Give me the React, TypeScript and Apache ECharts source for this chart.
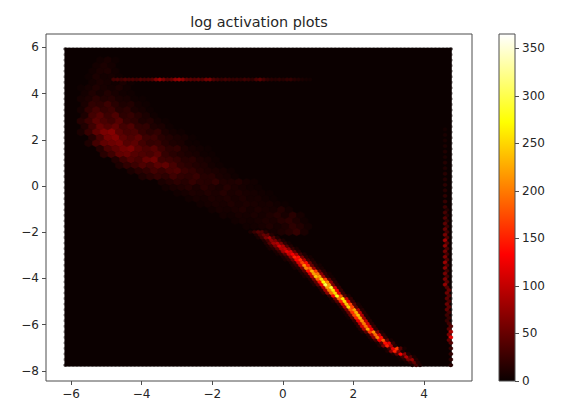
import React, { useEffect, useRef } from "react";
import * as echarts from "echarts";

const xTicks = [-6, -4, -2, 0, 2, 4];
const yTicks = [-8, -6, -4, -2, 0, 2, 4, 6];
const colorbarMax = 365;
const hotStops: [number, number[]][] = [
  [0, [11, 0, 0]],
  [0.365, [255, 0, 0]],
  [0.746, [255, 255, 0]],
  [1, [255, 255, 255]],
];

// hexagon lattice
const xStart = -6.16;
const xStep = 0.1092;
const yStart = -7.75;
const yStep = 0.12;
const lastCol = 100;
const lastRow = 114;

// [row, first column, counts...] in coarse cells (two lattice steps wide)
const cloudRows: number[][] = [
  [110, 4, 4, 7, 3],
  [108, 4, 5, 9, 5],
  [106, 3, 4, 8, 10, 4],
  [104, 3, 3, 9, 5, 6, 3],
  [102, 3, 5, 9, 6, 4, 8, 3],
  [100, 2, 3, 6, 11, 7, 5, 9, 4],
  [98, 2, 5, 11, 6, 12, 7, 4, 3],
  [96, 2, 6, 10, 17, 12, 14, 8, 7, 3, 2],
  [94, 2, 8, 20, 18, 26, 16, 10, 12, 5, 3],
  [92, 2, 6, 20, 30, 22, 26, 14, 18, 8, 6, 2],
  [90, 2, 10, 30, 40, 26, 36, 18, 22, 14, 8, 3],
  [88, 2, 14, 26, 42, 34, 28, 40, 22, 18, 10, 12, 5, 2],
  [86, 2, 12, 28, 48, 38, 46, 30, 36, 20, 20, 10, 8, 3],
  [84, 2, 8, 24, 44, 60, 66, 42, 32, 34, 22, 16, 20, 9, 5, 3],
  [82, 3, 14, 34, 56, 64, 44, 36, 44, 26, 26, 16, 12, 8, 6, 2],
  [80, 3, 10, 30, 46, 52, 58, 40, 44, 30, 22, 24, 15, 10, 8, 3, 2],
  [78, 4, 14, 34, 44, 54, 60, 42, 34, 40, 26, 18, 20, 10, 6, 4, 2],
  [76, 5, 16, 28, 46, 50, 40, 36, 32, 42, 22, 16, 12, 9, 7, 3, 2],
  [74, 6, 12, 26, 38, 32, 48, 54, 28, 26, 22, 14, 16, 9, 6, 3],
  [72, 7, 10, 20, 26, 36, 30, 42, 46, 32, 20, 16, 12, 10, 5, 3],
  [70, 8, 8, 16, 20, 30, 24, 32, 36, 24, 20, 13, 10, 8, 6, 3],
  [68, 10, 10, 16, 22, 18, 28, 20, 18, 24, 14, 15, 8, 6, 3],
  [66, 12, 8, 13, 18, 14, 22, 16, 14, 20, 11, 10, 12, 6, 4],
  [64, 13, 5, 8, 11, 14, 9, 16, 11, 8, 14, 9, 6, 4, 3],
  [62, 14, 4, 6, 10, 8, 12, 9, 14, 8, 11, 7, 6, 4, 2],
  [60, 16, 4, 7, 6, 10, 8, 11, 7, 10, 6, 7, 4, 2],
  [58, 17, 4, 6, 8, 7, 11, 7, 10, 8, 6, 7, 4, 2],
  [56, 19, 4, 7, 6, 8, 11, 6, 10, 7, 6, 12, 5],
  [54, 20, 5, 4, 7, 6, 9, 6, 10, 14, 7, 16, 6],
  [52, 22, 4, 6, 5, 7, 10, 8, 14, 18, 10, 4],
  [50, 23, 4, 5, 7, 11, 6, 10, 18, 12, 5],
  [48, 25, 3, 5, 6, 10, 14, 22, 8],
];

// [row, first column, counts...] in lattice cells: the bright diagonal ridge
const ridgeRows: number[][] = [
  [0, 90, 8, 30, 10],
  [1, 88, 6, 20, 48, 14],
  [2, 87, 5, 14, 60, 78, 12],
  [3, 86, 6, 28, 92, 40, 8],
  [4, 85, 8, 40, 130, 70, 10],
  [5, 83, 10, 70, 150, 60, 8],
  [6, 83, 6, 30, 120, 165, 40, 6],
  [7, 81, 12, 60, 150, 90, 14],
  [8, 81, 8, 40, 140, 120, 22],
  [9, 79, 6, 30, 130, 180, 50, 8],
  [10, 79, 12, 70, 200, 140, 20],
  [11, 78, 14, 80, 190, 110, 18],
  [12, 77, 8, 40, 160, 210, 60, 10],
  [13, 76, 14, 90, 220, 130, 20],
  [14, 76, 18, 110, 195, 120, 22],
  [15, 75, 16, 100, 200, 110, 16],
  [16, 75, 20, 120, 210, 100, 14],
  [17, 73, 6, 40, 150, 230, 80, 12],
  [18, 73, 8, 50, 170, 240, 90, 12],
  [19, 72, 8, 50, 160, 230, 100, 14],
  [20, 72, 10, 60, 180, 220, 90, 14],
  [21, 71, 14, 90, 250, 170, 40, 8],
  [22, 71, 18, 110, 240, 170, 40, 8],
  [23, 69, 8, 40, 150, 250, 120, 24],
  [24, 69, 10, 60, 190, 260, 100, 20],
  [25, 68, 20, 130, 280, 180, 40, 10],
  [26, 67, 12, 70, 190, 250, 120, 24],
  [27, 66, 14, 80, 200, 260, 130, 24],
  [28, 66, 16, 90, 220, 290, 110, 20],
  [29, 64, 10, 40, 120, 300, 220, 60, 14],
  [30, 64, 10, 44, 140, 270, 210, 70, 16],
  [31, 63, 12, 60, 180, 250, 170, 50, 12],
  [32, 62, 8, 18, 90, 240, 220, 80, 18, 6],
  [33, 61, 8, 24, 110, 220, 200, 70, 18, 6],
  [34, 61, 12, 40, 140, 230, 170, 50, 14],
  [35, 59, 8, 16, 60, 200, 190, 80, 20, 8],
  [36, 59, 10, 24, 100, 210, 150, 50, 16, 6],
  [37, 58, 10, 30, 110, 170, 140, 50, 14],
  [38, 57, 8, 18, 50, 130, 160, 90, 28, 10],
  [39, 56, 8, 20, 70, 150, 140, 60, 16, 6],
  [40, 55, 6, 16, 40, 100, 130, 90, 30, 10],
  [41, 54, 8, 24, 80, 120, 110, 50, 14],
  [42, 53, 8, 16, 40, 90, 100, 70, 24, 8],
  [43, 52, 8, 24, 60, 110, 90, 40, 12],
  [44, 52, 12, 40, 80, 90, 60, 20, 6],
  [45, 51, 12, 30, 70, 60, 30, 10],
  [46, 50, 8, 24, 60, 80, 40, 12],
  [47, 49, 10, 30, 50, 44, 14],
  [48, 48, 10, 24, 40, 36, 14],
];

// the thin horizontal streak near y = 4.7
const streakRow = 103;
const streakFirstCol = 12;
const streakValues = [
  30, 34, 28, 36, 32, 34, 30, 38, 34, 36, 40, 62, 78, 60, 42, 50, 72, 80, 70, 48, 44, 40, 46, 38,
  56, 60, 36, 30, 24, 30, 26, 22, 24, 20, 28, 24, 18, 34, 44, 30, 20, 16, 14, 18, 14, 20, 22, 14,
  12, 8, 6, 5,
];

// [row, column, count]: the thin vertical streak near the right edge
const edgeStreak: number[][] = [
  [85, 98, 6], [83, 98, 8], [81, 98, 8], [79, 98, 10], [77, 98, 12], [75, 98, 10], [73, 98, 14],
  [71, 98, 12], [69, 98, 16], [67, 98, 14], [65, 98, 18], [63, 98, 16], [61, 98, 20], [59, 98, 24],
  [57, 98, 28], [56, 99, 14], [55, 98, 34], [54, 99, 16], [53, 98, 40], [52, 99, 22], [51, 98, 46],
  [50, 99, 26], [49, 98, 52], [48, 99, 30], [47, 98, 60], [46, 99, 36], [45, 98, 84], [44, 99, 40],
  [43, 98, 72], [42, 99, 34], [41, 98, 58], [40, 99, 30], [39, 98, 64], [38, 99, 38], [37, 98, 80],
  [36, 99, 36], [35, 98, 70], [34, 99, 30], [33, 98, 60], [32, 99, 32], [31, 98, 62], [30, 99, 44],
  [29, 98, 76], [28, 99, 40], [27, 99, 50], [26, 99, 54], [25, 99, 40], [24, 99, 46], [23, 99, 34],
  [22, 99, 52], [21, 99, 44], [20, 99, 48], [19, 99, 30], [18, 99, 28], [17, 99, 24], [16, 99, 24],
  [15, 99, 30], [14, 100, 40], [13, 99, 44], [12, 100, 90], [11, 99, 60], [10, 100, 120], [9, 99, 50],
  [8, 100, 40], [6, 100, 24], [4, 100, 20], [2, 100, 18], [0, 100, 14],
];

const rowY = (row: number) => yStart + row * yStep;
const colX = (col: number, row: number) => xStart + xStep * (col + (row % 2 ? 0.5 : 0));

function hotColor(value: number): string {
  const t = Math.min(1, Math.max(0, value / colorbarMax));
  for (let i = 1; i < hotStops.length; i++) {
    const [t0, c0] = hotStops[i - 1];
    const [t1, c1] = hotStops[i];
    if (t <= t1) {
      const f = (t - t0) / (t1 - t0);
      const c = c0.map((v, k) => Math.round(v + (c1[k] - v) * f));
      return `rgb(${c[0]},${c[1]},${c[2]})`;
    }
  }
  return "#ffffff";
}

function buildBorderCells(): number[][] {
  const cells: number[][] = [];
  for (let row = 0; row <= lastRow; row++) {
    cells.push([colX(0, row), rowY(row), 0, 1]);
    cells.push([colX(row % 2 ? lastCol - 1 : lastCol, row), rowY(row), 0, 1]);
  }
  for (let col = 0; col <= lastCol; col += 1) {
    cells.push([colX(col, 0), rowY(0), 0, 1]);
    cells.push([colX(col, lastRow), rowY(lastRow), 0, 1]);
  }
  return cells;
}

function buildCells(): number[][] {
  const cells: number[][] = [];
  for (const [row, first, ...values] of cloudRows) {
    values.forEach((v, i) => {
      const offset = (row / 2) % 2 ? 0.5 : 0;
      cells.push([xStart + 2 * xStep * (first + i + offset), rowY(row), v, 2]);
    });
  }
  streakValues.forEach((v, i) => {
    cells.push([colX(streakFirstCol + i, streakRow), rowY(streakRow), v, 1]);
  });
  for (const [row, col, v] of edgeStreak) cells.push([colX(col, row), rowY(row), v, 1]);
  for (const [row, first, ...values] of ridgeRows) {
    values.forEach((v, i) => cells.push([colX(first + i, row), rowY(row), v, 1]));
  }
  return cells;
}

const hexShape = [
  [0.5, -0.5],
  [0.5, 0.5],
  [0, 1],
  [-0.5, 0.5],
  [-0.5, -0.5],
  [0, -1],
];

const axisText = { color: "#262626", fontSize: 12, fontFamily: "DejaVu Sans" };
const minus = (v: number | string) => String(v).replace("-", "\u2212");

const hexItem = (opacity: number, lineWidth: number) => (_p: any, api: any) => {
  const cx = api.value(0);
  const cy = api.value(1);
  const v = api.value(2);
  const s = api.value(3);
  const sy = 2 * yStep;
  const points = hexShape.map(([px, py]) => api.coord([cx + px * xStep * s, cy + (py * sy * s) / 3]));
  const color = hotColor(v);
  return {
    type: "polygon",
    shape: { points },
    style: { fill: color, stroke: lineWidth ? color : "none", lineWidth, opacity },
  };
};

export default function App() {
  const ref = useRef<HTMLDivElement>(null);
  useEffect(() => {
    document.body.style.margin = "0";
    const chart = echarts.init(ref.current!, undefined, { renderer: "svg" });
    chart.setOption({
      animation: false,
      backgroundColor: "#ffffff",
      title: {
        text: "log activation plots",
        left: 254,
        top: 10,
        textAlign: "center",
        textStyle: { color: "#262626", fontSize: 14.4, fontWeight: "normal", fontFamily: "DejaVu Sans" },
      },
      grid: [
        { left: 46, top: 34, width: 426, height: 347, show: true, borderColor: "#4d4d4d", borderWidth: 1, backgroundColor: "#fff" },
        { left: 499, top: 34, width: 16, height: 347, show: false },
      ],
      xAxis: [
        {
          type: "value",
          gridIndex: 0,
          min: -6.71,
          max: 5.36,
          splitLine: { show: false },
          axisLine: { show: false, onZero: false },
          axisTick: { show: true, length: 4, customValues: xTicks, lineStyle: { color: "#4d4d4d" } },
          axisLabel: { ...axisText, margin: 7, customValues: xTicks, formatter: minus, hideOverlap: false },
        },
        { type: "value", gridIndex: 1, min: 0, max: 1, show: false },
      ],
      yAxis: [
        {
          type: "value",
          gridIndex: 0,
          min: -8.44,
          max: 6.58,
          splitLine: { show: false },
          axisLine: { show: false, onZero: false },
          axisTick: { show: true, length: 4, customValues: yTicks, lineStyle: { color: "#4d4d4d" } },
          axisLabel: { ...axisText, margin: 7, customValues: yTicks, formatter: minus, hideOverlap: false },
        },
        {
          type: "value",
          gridIndex: 1,
          position: "right",
          min: 0,
          max: colorbarMax,
          interval: 50,
          splitLine: { show: false },
          axisLine: { show: false, onZero: false },
          axisTick: { show: true, length: 4, lineStyle: { color: "#4d4d4d" } },
          axisLabel: { ...axisText, margin: 7, showMaxLabel: false },
        },
      ],
      series: [
        {
          type: "custom",
          xAxisIndex: 0,
          yAxisIndex: 0,
          coordinateSystem: "cartesian2d",
          silent: true,
          clip: false,
          data: buildBorderCells(),
          encode: { x: 0, y: 1 },
          renderItem: hexItem(0.4, 0),
        },
        {
          type: "custom",
          xAxisIndex: 0,
          yAxisIndex: 0,
          coordinateSystem: "cartesian2d",
          silent: true,
          clip: false,
          data: [[xStart - xStep * 0.25, yStart + lastRow * yStep + yStep * 0.5, xStart + lastCol * xStep + xStep * 0.25, yStart - yStep * 0.5]],
          encode: { x: [0, 2], y: [1, 3] },
          renderItem: (_p: any, api: any) => {
            const a = api.coord([api.value(0), api.value(1)]);
            const b = api.coord([api.value(2), api.value(3)]);
            return {
              type: "rect",
              shape: { x: a[0], y: a[1], width: b[0] - a[0], height: b[1] - a[1] },
              style: { fill: hotColor(0) },
            };
          },
        },
        {
          type: "custom",
          xAxisIndex: 0,
          yAxisIndex: 0,
          coordinateSystem: "cartesian2d",
          silent: true,
          clip: false,
          data: buildCells(),
          encode: { x: 0, y: 1 },
          renderItem: hexItem(1, 0.5),
        },
        {
          type: "custom",
          xAxisIndex: 1,
          yAxisIndex: 1,
          coordinateSystem: "cartesian2d",
          silent: true,
          clip: false,
          data: [[0, colorbarMax, 1, 0]],
          encode: { x: [0, 2], y: [1, 3] },
          renderItem: (_p: any, api: any) => {
            const a = api.coord([api.value(0), api.value(1)]);
            const b = api.coord([api.value(2), api.value(3)]);
            return {
              type: "rect",
              shape: { x: a[0], y: a[1], width: b[0] - a[0], height: b[1] - a[1] },
              style: {
                fill: new echarts.graphic.LinearGradient(
                  0,
                  1,
                  0,
                  0,
                  hotStops.map(([offset, c]) => ({ offset, color: `rgb(${c[0]},${c[1]},${c[2]})` }))
                ),
                stroke: "#4d4d4d",
                lineWidth: 1,
              },
            };
          },
        },
      ],
    });
    return () => chart.dispose();
  }, []);
  return <div ref={ref} style={{ width: 562, height: 408 }} />;
}
